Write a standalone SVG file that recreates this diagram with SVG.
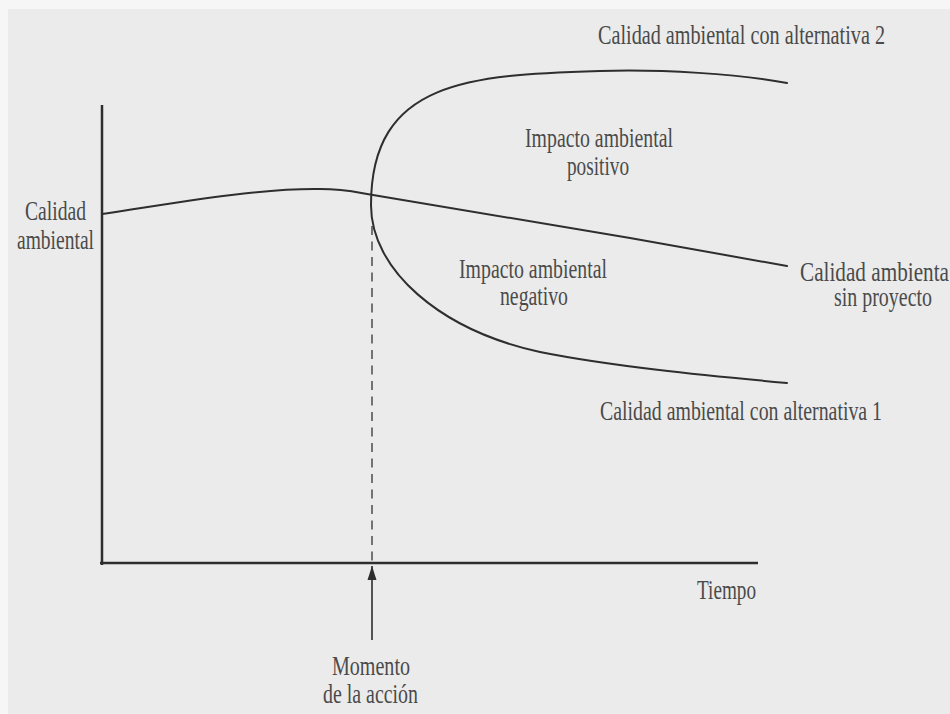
<svg xmlns="http://www.w3.org/2000/svg" width="950" height="714" viewBox="0 0 950 714">
<style>
text{font-family:"Liberation Serif","Times New Roman",serif;font-size:27px;fill:#4a4a4a}
.ln{fill:none;stroke:#2e2e2e;stroke-width:2;stroke-linecap:round;stroke-linejoin:round}
.ax{fill:none;stroke:#2e2e2e;stroke-width:2.5}
.dash{fill:none;stroke:#555;stroke-width:1.6;stroke-dasharray:9 6.5}
</style>
<defs>
<marker id="ah" viewBox="0 0 14 10" refX="14" refY="5" markerWidth="14" markerHeight="10" markerUnits="userSpaceOnUse" orient="auto">
<path d="M14,5 L0,0.5 L0,9.5 Z" fill="#2e2e2e"/>
</marker>
</defs>
<rect x="0" y="0" width="950" height="714" fill="#f6f6f6"/>
<rect x="8" y="9" width="942" height="705" fill="#ebebeb"/>
<g id="connectors">
<path id="y-axis" class="ax" d="M102,105 L102,565"/>
<path id="x-axis" class="ax" d="M100,563 L758,563"/>
<path id="dashed" class="dash" d="M372,226 L372,562"/>
<path id="arrow" fill="none" stroke="#2e2e2e" stroke-width="1.6" d="M372,640 L372,566" marker-end="url(#ah)"/>
<path id="sin-proyecto" class="ln" d="M102,214 C180,202 260,188 320,189 C345,189 355,192 373,195 L630,238 L787,266"/>
<path id="alternativas" class="ln" d="M787,83 C740,74 660,69 600,71 C470,75 371,80 371,205 C371,270 440,330 540,352 C610,366 700,375 787,383"/>
</g>
<g id="label-alt2"><text x="598" y="44" textLength="287" lengthAdjust="spacingAndGlyphs">Calidad ambiental con alternativa 2</text></g>
<g id="label-yaxis">
<text x="25" y="220" textLength="61" lengthAdjust="spacingAndGlyphs">Calidad</text>
<text x="17" y="249" textLength="77" lengthAdjust="spacingAndGlyphs">ambiental</text>
</g>
<g id="label-positivo">
<text x="525" y="147" textLength="148" lengthAdjust="spacingAndGlyphs">Impacto ambiental</text>
<text x="567" y="175" textLength="62" lengthAdjust="spacingAndGlyphs">positivo</text>
</g>
<g id="label-negativo">
<text x="459" y="278" textLength="148" lengthAdjust="spacingAndGlyphs">Impacto ambiental</text>
<text x="500" y="305" textLength="68" lengthAdjust="spacingAndGlyphs">negativo</text>
</g>
<g id="label-sinproyecto">
<text x="800" y="281" textLength="149" lengthAdjust="spacingAndGlyphs">Calidad ambienta</text>
<text x="834" y="306" textLength="98" lengthAdjust="spacingAndGlyphs">sin proyecto</text>
</g>
<g id="label-alt1"><text x="600" y="420" textLength="282" lengthAdjust="spacingAndGlyphs">Calidad ambiental con alternativa 1</text></g>
<g id="label-tiempo"><text x="697" y="599" textLength="59" lengthAdjust="spacingAndGlyphs">Tiempo</text></g>
<g id="label-momento">
<text x="332" y="675" textLength="78" lengthAdjust="spacingAndGlyphs">Momento</text>
<text x="323" y="703" textLength="95" lengthAdjust="spacingAndGlyphs">de la acción</text>
</g>
</svg>
